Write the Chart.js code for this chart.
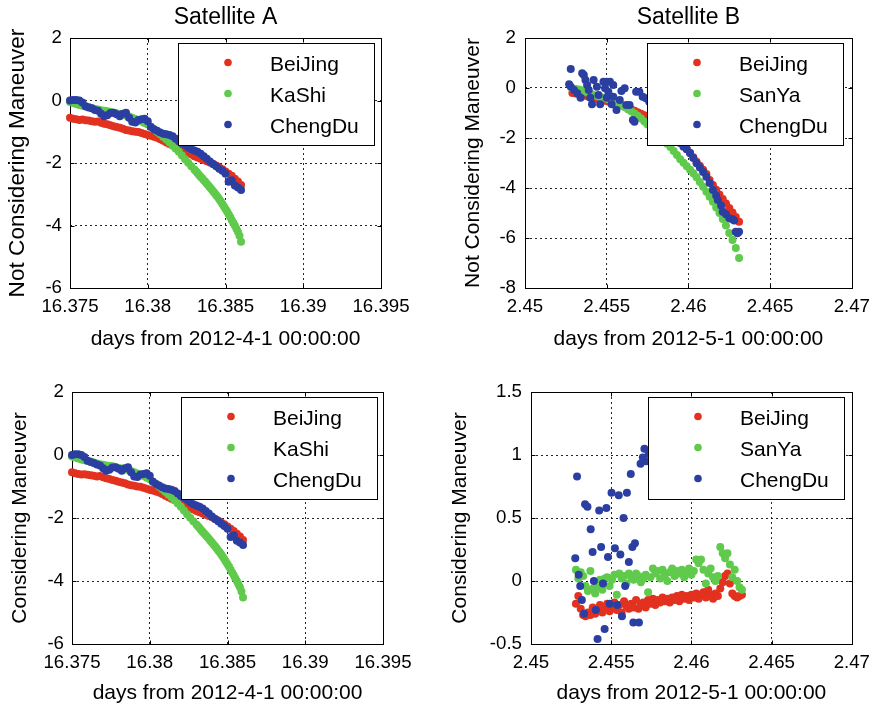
<!DOCTYPE html>
<html>
<head>
<meta charset="utf-8">
<script src="https://cdn.jsdelivr.net/npm/chart.js@4.4.1/dist/chart.umd.min.js"></script>
<style>
  html, body { margin: 0; padding: 0; background: #fff; }
  #wrap { position: relative; width: 878px; height: 708px; overflow: hidden; background: #fff; }
  canvas { position: absolute; }
</style>
</head>
<body>
<div id="wrap">
  <canvas id="panelA1" width="440" height="356" style="left:0;top:0"></canvas>
  <canvas id="panelB1" width="438" height="356" style="left:440px;top:0"></canvas>
  <canvas id="panelA2" width="440" height="352" style="left:0;top:356px"></canvas>
  <canvas id="panelB2" width="438" height="352" style="left:440px;top:356px"></canvas>
</div>
<script>
// ---------- Satellite A: days from 2012-4-1 00:00:00 ----------
const timeA = [16.375,16.3752,16.3754,16.3756,16.3758,16.376,16.3762,16.3764,16.3766,16.3768,
  16.377,16.3772,16.3774,16.3776,16.3778,16.378,16.3782,16.3784,16.3786,16.3788,
  16.379,16.3792,16.3794,16.3796,16.3798,16.38,16.3802,16.3804,16.3806,16.3808,
  16.381,16.3812,16.3814,16.3816,16.3818,16.382,16.3822,16.3824,16.3826,16.3828,
  16.383,16.3832,16.3834,16.3836,16.3838,16.384,16.3842,16.3844,16.3846,16.3848,
  16.385,16.3852,16.3854,16.3856,16.3858,16.386];
const beijingA = [-0.55,-0.58,-0.60,-0.62,-0.61,-0.63,-0.64,-0.66,-0.68,-0.67,
  -0.71,-0.74,-0.76,-0.79,-0.82,-0.85,-0.87,-0.90,-0.94,-0.96,
  -0.98,-1.00,-1.01,-1.04,-1.07,-1.10,-1.13,-1.16,-1.19,-1.24,
  -1.29,-1.34,-1.39,-1.44,-1.50,-1.55,-1.60,-1.64,-1.69,-1.73,
  -1.78,-1.82,-1.86,-1.90,-1.94,-1.98,-2.03,-2.08,-2.14,-2.20,
  -2.27,-2.34,-2.41,-2.50,-2.59,-2.70];
// KaShi is read more finely along its steep tail
const kashiTimeA = [16.375,16.3752,16.3754,16.3756,16.3758,16.376,16.3762,16.3764,16.3766,16.3768,
  16.377,16.3772,16.3774,16.3776,16.3778,16.378,16.3782,16.3784,16.3786,16.3788,
  16.379,16.3792,16.3794,16.3796,16.3798,16.38,16.3802,16.3804,16.3806,16.3808,
  16.381,16.3812,16.3814,16.3816,16.3818,16.382,16.3822,16.3824,16.3826,16.3828,
  16.383,16.3831,16.3832,16.3833,16.3834,16.3835,16.3836,16.3837,16.3838,16.3839,
  16.384,16.3841,16.3842,16.3843,16.3844,16.3845,16.3846,16.3847,16.3848,16.3849,
  16.385,16.3851,16.3852,16.3853,16.3854,16.3855,16.3856,16.3857,16.3858,16.3859,
  16.386];
const kashiA = [-0.05,-0.08,-0.11,-0.14,-0.17,-0.19,-0.21,-0.24,-0.27,-0.29,
  -0.31,-0.33,-0.34,-0.36,-0.39,-0.41,-0.43,-0.45,-0.48,-0.51,
  -0.55,-0.59,-0.63,-0.67,-0.72,-0.77,-0.84,-0.92,-1.00,-1.08,
  -1.17,-1.25,-1.34,-1.44,-1.54,-1.64,-1.76,-1.88,-1.99,-2.10,
  -2.21,-2.26,-2.32,-2.38,-2.44,-2.49,-2.55,-2.60,-2.66,-2.72,
  -2.78,-2.84,-2.90,-2.96,-3.03,-3.09,-3.16,-3.23,-3.31,-3.39,
  -3.47,-3.55,-3.64,-3.73,-3.82,-3.91,-4.00,-4.10,-4.20,-4.33,
  -4.52];
const chengduA = [0.00,0.02,0.02,0.00,-0.06,-0.18,-0.22,-0.25,-0.30,-0.33,
  -0.42,-0.50,-0.47,-0.40,-0.39,-0.44,-0.50,-0.42,-0.39,-0.55,
  -0.68,-0.70,-0.62,-0.60,-0.58,-0.66,-0.85,-0.92,-0.97,-1.02,
  -1.06,-1.08,-1.10,-1.14,-1.22,-1.30,-1.36,-1.42,-1.50,-1.56,
  -1.60,-1.64,-1.70,-1.78,-1.86,-1.95,-2.03,-2.10,-2.18,-2.25,
  -2.34,-2.60,-2.55,-2.72,-2.78,-2.86];

// ---------- Satellite B: days from 2012-5-1 00:00:00 ----------
const timeB = [2.4529,2.4531,2.4533,2.4535,2.4537,2.4539,2.4541,2.4543,2.4545,2.4547,
  2.4549,2.4551,2.4553,2.4555,2.4557,2.4559,2.4561,2.4563,2.4565,2.4567,
  2.4569,2.4571,2.4573,2.4575,2.4577,2.4579,2.4581,2.4583,2.4585,2.4587,
  2.4589,2.4591,2.4593,2.4595,2.4597,2.4599,2.4601,2.4603,2.4605,2.4607,
  2.4609,2.4611,2.4613,2.4615,2.4617,2.4619,2.4621,2.4623,2.4625,2.4627,
  2.4629,2.4631];
const beijingB = [-0.20,-0.22,-0.25,-0.28,-0.31,-0.35,-0.38,-0.42,-0.45,-0.48,
  -0.51,-0.54,-0.57,-0.60,-0.64,-0.69,-0.74,-0.80,-0.85,-0.91,
  -0.97,-1.03,-1.09,-1.15,-1.22,-1.30,-1.38,-1.46,-1.55,-1.67,
  -1.80,-1.93,-2.06,-2.20,-2.32,-2.45,-2.59,-2.77,-2.95,-3.11,
  -3.27,-3.44,-3.68,-3.88,-4.07,-4.26,-4.44,-4.62,-4.80,-4.98,
  -5.16,-5.35];
const sanyaB = [-0.02,-0.04,-0.06,-0.10,-0.15,-0.20,-0.25,-0.30,-0.34,-0.38,
  -0.41,-0.45,-0.50,-0.55,-0.61,-0.68,-0.76,-0.85,-0.93,-1.02,
  -1.11,-1.22,-1.34,-1.46,-1.58,-1.71,-1.84,-1.97,-2.10,-2.23,
  -2.36,-2.52,-2.68,-2.85,-2.99,-3.13,-3.27,-3.41,-3.57,-3.76,
  -3.95,-4.15,-4.35,-4.55,-4.78,-5.00,-5.24,-5.50,-5.80,-6.08,
  -6.40,-6.80];
const chengduTimeB = [2.4527,2.4528,2.4528,2.4530,2.4532,2.4534,2.4535,2.4536,2.4537,2.4538,
  2.4539,2.4540,2.4541,2.4542,2.4544,2.4545,2.4546,2.4548,2.4549,2.4550,
  2.4550,2.4551,2.4552,2.4553,2.4554,2.4554,2.4556,2.4558,2.4559,2.4561,
  2.4562,2.4564,2.4566,2.4567,2.4568,2.4570,2.4572,2.4574,2.4576,2.4578,
  2.4580,2.4583,2.4586,2.4589,2.4592,2.4595,2.4597,2.4599,2.4601,2.4603,
  2.4605,2.4607,2.4609,2.4611,2.4613,2.4615,2.4617,2.4618,2.4620,2.4621,
  2.4623,2.4625,2.4627,2.4628,2.4629,2.4630,2.4631];
const chengduB = [0.15,0.76,0.05,-0.08,-0.21,-0.39,0.59,0.52,0.32,0.12,
  -0.08,-0.39,-0.65,0.32,0.05,-0.28,-0.65,0.25,-0.01,0.25,
  -0.39,-0.15,0.25,-0.65,0.12,-0.35,-0.88,-0.48,-0.12,-0.01,
  -0.68,-0.68,-1.28,-1.35,-0.15,-0.15,-0.35,-0.41,-0.55,-0.75,
  -0.95,-1.20,-1.50,-1.80,-2.05,-2.20,-2.35,-2.45,-2.61,-2.80,
  -3.01,-3.18,-3.36,-3.55,-3.80,-4.08,-4.30,-4.48,-4.70,-4.95,
  -5.05,-5.21,-5.25,-5.30,-5.75,-5.81,-5.75];

// Satellite B with the manoeuvre taken into account
const timeBM = [2.4528,2.45295,2.4531,2.45325,2.4534,2.45355,2.4537,2.45385,2.454,2.45415,
  2.4543,2.45445,2.4546,2.45475,2.4549,2.45505,2.4552,2.45535,2.4555,2.45565,
  2.4558,2.45595,2.4561,2.45625,2.4564,2.45655,2.4567,2.45685,2.457,2.45715,
  2.4573,2.45745,2.4576,2.45775,2.4579,2.45805,2.4582,2.45835,2.4585,2.45865,
  2.4588,2.45895,2.4591,2.45925,2.4594,2.45955,2.4597,2.45985,2.46,2.46015,
  2.4603,2.46045,2.4606,2.46075,2.4609,2.46105,2.4612,2.46135,2.4615,2.46165,
  2.4618,2.46195,2.4621,2.46225,2.4624,2.46255,2.4627,2.46285,2.463,2.46315];
const beijingBM = [-0.18,-0.12,-0.22,-0.27,-0.28,-0.25,-0.27,-0.21,-0.26,-0.23,
  -0.19,-0.25,-0.21,-0.18,-0.24,-0.21,-0.17,-0.23,-0.19,-0.25,
  -0.16,-0.20,-0.22,-0.18,-0.21,-0.15,-0.22,-0.19,-0.17,-0.21,
  -0.15,-0.18,-0.14,-0.19,-0.15,-0.17,-0.13,-0.16,-0.14,-0.17,
  -0.13,-0.15,-0.12,-0.16,-0.11,-0.14,-0.12,-0.15,-0.11,-0.13,
  -0.10,-0.14,-0.11,-0.09,-0.13,-0.07,-0.11,-0.14,-0.10,-0.12,
  -0.06,-0.01,0.04,0.06,-0.02,-0.10,-0.12,-0.13,-0.12,-0.11];
const sanyaBM = [0.09,0.02,0.07,0.04,-0.04,-0.08,0.08,-0.06,-0.10,-0.05,
  0.01,-0.07,0.02,0.03,-0.04,0.01,0.05,-0.11,0.06,0.02,
  0.04,-0.02,0.06,0.03,0.01,0.06,0.04,-0.01,0.02,0.05,
  -0.09,0.03,0.10,0.06,0.08,0.02,0.09,0.05,0.00,0.07,
  0.10,0.04,0.08,0.06,0.09,0.03,0.07,0.10,0.05,0.08,
  0.17,0.14,0.17,0.09,-0.02,0.06,0.10,0.03,0.00,0.04,
  0.27,0.22,0.18,0.22,0.13,0.03,0.09,0.00,-0.05,-0.07];
const chengduTimeBM = [2.45276,2.45287,2.45297,2.45307,2.45317,2.45331,2.45337,2.45352,2.45372,2.45384,
  2.45392,2.45404,2.45415,2.45425,2.45437,2.45449,2.45459,2.4547,2.4548,2.4549,
  2.45502,2.45523,2.45537,2.45547,2.45557,2.45567,2.45577,2.45587,2.45598,2.4561,
  2.45622,2.45632,2.45638,2.45648,2.45673,2.45683,2.45697,2.45707,2.45718,2.45734,
  2.45745];
const chengduBM = [0.18,0.83,0.05,-0.04,-0.15,-0.26,0.61,0.59,0.41,0.23,
  0.00,-0.23,-0.46,0.56,0.27,-0.02,-0.38,0.58,0.19,-0.18,
  0.70,0.26,-0.19,0.68,0.21,-0.28,0.50,-0.04,0.70,0.15,
  0.85,0.27,-0.33,0.30,-0.33,0.93,0.98,1.05,0.95,1.01,
  1.04];

// ---------- axis ticks ----------
const xTicksA = [16.375, 16.38, 16.385, 16.39, 16.395];
const xTickLabelsA = ['16.375', '16.38', '16.385', '16.39', '16.395'];
const xTicksB = [2.45, 2.455, 2.46, 2.465, 2.47];
const xTickLabelsB = ['2.45', '2.455', '2.46', '2.465', '2.47'];
const yTicksA = [-6, -4, -2, 0, 2];
const yTickLabelsA = ['-6', '-4', '-2', '0', '2'];
const yTicksB = [-8, -6, -4, -2, 0, 2];
const yTickLabelsB = ['-8', '-6', '-4', '-2', '0', '2'];
const yTicksBM = [-0.5, 0, 0.5, 1, 1.5];
const yTickLabelsBM = ['-0.5', '0', '0.5', '1', '1.5'];

const FONT = '"Liberation Sans", Arial, Helvetica, sans-serif';
const RED = '#e2321f';
const GREEN = '#5fca4b';
const BLUE = '#2b3fa2';
const DOT = 4;

Chart.defaults.font.family = FONT;
Chart.defaults.color = '#000';

// solid box round the plot area with short inward tick marks on all four sides
const axesFrame = {
  id: 'axesFrame',
  beforeDatasetsDraw(chart) {
    const { ctx, chartArea: a, scales } = chart;
    const L = Math.round(a.left) + 0.5, R = Math.round(a.right) + 0.5;
    const T = Math.round(a.top) + 0.5, B = Math.round(a.bottom) + 0.5;
    ctx.save();
    ctx.strokeStyle = '#000';
    ctx.lineWidth = 1;
    ctx.setLineDash([]);
    ctx.strokeRect(L, T, R - L, B - T);
    ctx.beginPath();
    scales.x.ticks.forEach(t => {
      const px = Math.round(scales.x.getPixelForValue(t.value)) + 0.5;
      ctx.moveTo(px, B); ctx.lineTo(px, B - 4);
      ctx.moveTo(px, T); ctx.lineTo(px, T + 4);
    });
    scales.y.ticks.forEach(t => {
      const py = Math.round(scales.y.getPixelForValue(t.value)) + 0.5;
      ctx.moveTo(L, py); ctx.lineTo(L + 4, py);
      ctx.moveTo(R, py); ctx.lineTo(R - 4, py);
    });
    ctx.stroke();
    ctx.restore();
  }
};

// boxed legend in the upper right corner of the plot area
const boxLegend = {
  id: 'boxLegend',
  afterDatasetsDraw(chart, args, opts) {
    const { ctx, chartArea: a } = chart;
    const w = 196, h = 102;
    const x = Math.round(a.right - (opts.right || 7) - w);
    const y = Math.round(a.top + 5);
    ctx.save();
    ctx.fillStyle = '#fff';
    ctx.fillRect(x, y, w, h);
    ctx.strokeStyle = '#000';
    ctx.lineWidth = 1;
    ctx.strokeRect(x + 0.5, y + 0.5, w, h);
    ctx.font = '21px ' + FONT;
    ctx.textBaseline = 'middle';
    ctx.textAlign = 'left';
    chart.data.datasets.forEach((ds, i) => {
      const cy = y + 19.5 + i * 31;
      ctx.fillStyle = ds.backgroundColor;
      ctx.beginPath();
      ctx.arc(x + 50, cy, 3.8, 0, Math.PI * 2);
      ctx.fill();
      ctx.fillStyle = '#000';
      ctx.fillText(ds.label, x + 92, cy + 2.5);
    });
    ctx.restore();
  }
};

function pts(xs, ys) { return xs.map((x, i) => ({ x: x, y: ys[i] })); }

function series(label, color, data, order) {
  return {
    label: label, data: data, order: order,
    backgroundColor: color, borderColor: color,
    pointRadius: DOT, pointHoverRadius: DOT, pointBorderWidth: 0,
    showLine: false, clip: false
  };
}

function axis(opts) {
  const last = opts.ticks.length - 1;
  return {
    type: 'linear',
    min: opts.ticks[0], max: opts.ticks[last],
    afterBuildTicks: s => { s.ticks = opts.ticks.map(v => ({ value: v })); },
    afterFit: s => { if (opts.width) s.width = opts.width; if (opts.height) s.height = opts.height; },
    ticks: {
      callback: (v, i) => opts.labels[i],
      font: { size: 18.7 }, color: '#000', padding: opts.pad,
      autoSkip: false, maxRotation: 0, minRotation: 0
    },
    grid: {
      drawTicks: false, lineWidth: 1,
      color: c => (c.index === 0 || c.index === last) ? 'rgba(0,0,0,0)' : 'rgba(0,0,0,0.85)'
    },
    border: { display: false, dash: [2, 3] },
    title: {
      display: true, text: opts.title, color: '#000',
      font: { size: opts.titleSize || 21 }, padding: opts.titlePad
    }
  };
}

function panel(id, cfg) {
  new Chart(document.getElementById(id), {
    type: 'scatter',
    data: { datasets: cfg.datasets },
    options: {
      responsive: false, animation: false, events: [],
      layout: { padding: cfg.padding },
      plugins: {
        legend: { display: false },
        tooltip: { enabled: false },
        title: cfg.title ? {
          display: true, text: cfg.title, fullSize: false, color: '#000',
          font: { size: 23, weight: 'normal' }, padding: { top: 4.2, bottom: 6.2 }
        } : { display: false },
        boxLegend: { right: cfg.legendRight }
      },
      scales: { x: cfg.x, y: cfg.y }
    },
    plugins: [axesFrame, boxLegend]
  });
}

const xTitleA = 'days from 2012-4-1 00:00:00';
const xTitleB = 'days from 2012-5-1 00:00:00';

panel('panelA1', {
  title: 'Satellite A',
  padding: { left: 0, top: 0, right: 59, bottom: 0 },
  legendRight: 7,
  datasets: [
    series('BeiJing', RED, pts(timeA, beijingA), 3),
    series('KaShi', GREEN, pts(kashiTimeA, kashiA), 2),
    series('ChengDu', BLUE, pts(timeA, chengduA), 1)
  ],
  x: axis({ ticks: xTicksA, labels: xTickLabelsA, title: xTitleA, height: 68, pad: 8, titlePad: { top: 0, bottom: 4.4 } }),
  y: axis({ ticks: yTicksA, labels: yTickLabelsA, title: 'Not Considering Maneuver', titleSize: 22.6, width: 70, pad: 8, titlePad: { top: 4.7, bottom: 0 } })
});

panel('panelB1', {
  title: 'Satellite B',
  padding: { left: 0, top: 0, right: 21, bottom: 0 },
  legendRight: 9,
  datasets: [
    series('BeiJing', RED, pts(timeB, beijingB), 3),
    series('SanYa', GREEN, pts(timeB, sanyaB), 2),
    series('ChengDu', BLUE, pts(chengduTimeB, chengduB), 1)
  ],
  x: axis({ ticks: xTicksB, labels: xTickLabelsB, title: xTitleB, height: 68, pad: 8, titlePad: { top: 0, bottom: 4.4 } }),
  y: axis({ ticks: yTicksB, labels: yTickLabelsB, title: 'Not Considering Maneuver', width: 85, pad: 9, titlePad: { top: 20.7, bottom: 0 } })
});

panel('panelA2', {
  padding: { left: 0, top: 36, right: 57, bottom: 0 },
  legendRight: 6,
  datasets: [
    series('BeiJing', RED, pts(timeA, beijingA), 3),
    series('KaShi', GREEN, pts(kashiTimeA, kashiA), 2),
    series('ChengDu', BLUE, pts(timeA, chengduA), 1)
  ],
  x: axis({ ticks: xTicksA, labels: xTickLabelsA, title: xTitleA, height: 64, pad: 8, titlePad: { top: 0, bottom: 2.4 } }),
  y: axis({ ticks: yTicksA, labels: yTickLabelsA, title: 'Considering Maneuver', width: 72, pad: 8, titlePad: { top: 8.1, bottom: 0 } })
});

panel('panelB2', {
  padding: { left: 0, top: 36, right: 19, bottom: 0 },
  legendRight: 8,
  datasets: [
    series('BeiJing', RED, pts(timeBM, beijingBM), 3),
    series('SanYa', GREEN, pts(timeBM, sanyaBM), 2),
    series('ChengDu', BLUE, pts(chengduTimeBM, chengduBM), 1)
  ],
  x: axis({ ticks: xTicksB, labels: xTickLabelsB, title: xTitleB, height: 64, pad: 8, titlePad: { top: 0, bottom: 2.4 } }),
  y: axis({ ticks: yTicksBM, labels: yTickLabelsBM, title: 'Considering Maneuver', width: 91, pad: 9, titlePad: { top: 8.1, bottom: 0 } })
});
</script>
</body>
</html>
